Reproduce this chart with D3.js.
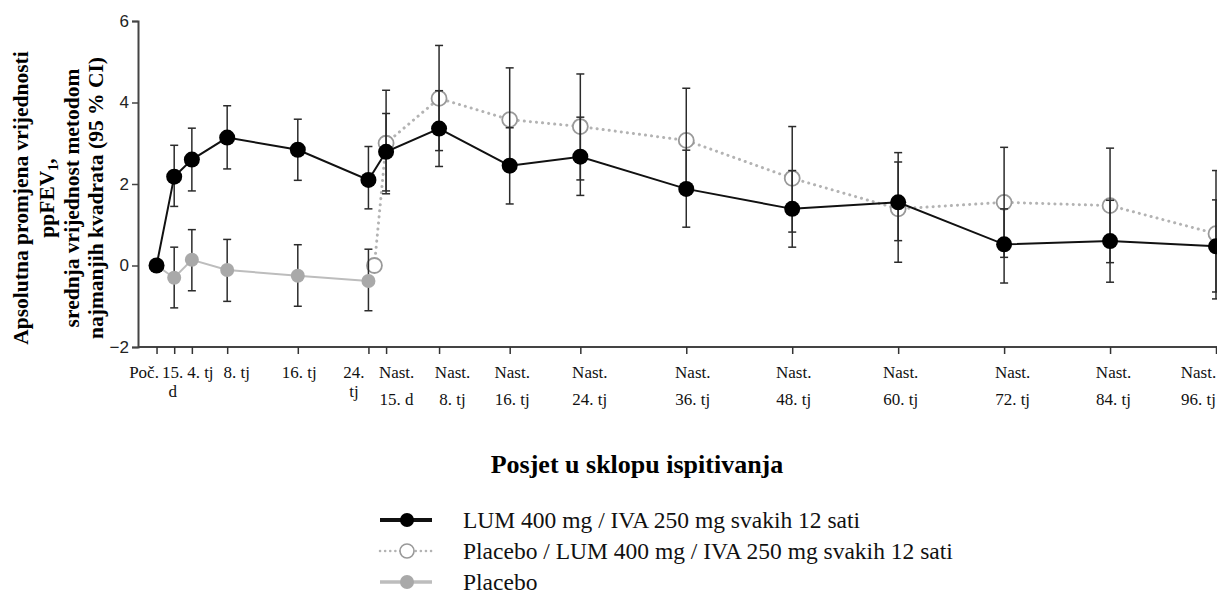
<!DOCTYPE html>
<html>
<head>
<meta charset="utf-8">
<script src="https://cdn.jsdelivr.net/npm/d3@7"></script>
<style>
  body { margin: 0; background: #fff; }
  svg { display: block; }
</style>
</head>
<body>
<div id="chart"></div>
<script>

// visit weeks and their labels
var weeks = [0, 2, 4, 8, 16, 24, 26, 32, 40, 48, 60, 72, 84, 96, 108, 120];
var tickLabels = [
    ["Poč."], ["15.", "d"], ["4. tj"], ["8. tj"], ["16. tj"], ["24.", "tj"],
    ["Nast.", "15. d"], ["Nast.", "8. tj"], ["Nast.", "16. tj"], ["Nast.", "24. tj"],
    ["Nast.", "36. tj"], ["Nast.", "48. tj"], ["Nast.", "60. tj"], ["Nast.", "72. tj"],
    ["Nast.", "84. tj"], ["Nast.", "96. tj"]
];
var yTicks = [-2, 0, 2, 4, 6];

// LUM 400 mg / IVA 250 mg
var lumMean = [0, 2.18, 2.6, 3.14, 2.84, 2.1, 2.79, 3.36, 2.45, 2.67, 1.88, 1.39, 1.55, 0.52, 0.6, 0.47];
var lumLo   = [null, 1.45, 1.83, 2.37, 2.09, 1.39, 1.83, 2.43, 1.51, 1.72, 0.94, 0.45, 0.61, -0.43, -0.41, -0.65];
var lumHi   = [null, 2.95, 3.37, 3.92, 3.59, 2.92, 3.73, 4.29, 3.38, 3.64, 2.83, 2.33, 2.54, 1.39, 1.6, 1.61];

// Placebo -> LUM/IVA
var crossWeeks = [24, 26, 32, 40, 48, 60, 72, 84, 96, 108, 120];
var crossMean = [0, 3.0, 4.1, 3.58, 3.41, 3.07, 2.14, 1.39, 1.55, 1.47, 0.78];
var crossLo   = [null, 1.76, 2.82, 2.3, 2.1, 1.8, 0.82, 0.08, 0.2, 0.07, -0.82];
var crossHi   = [null, 4.3, 5.4, 4.85, 4.7, 4.35, 3.41, 2.77, 2.9, 2.88, 2.33];

// Placebo
var placeboWeeks = [0, 2, 4, 8, 16, 24];
var placeboMean = [0, -0.3, 0.14, -0.11, -0.25, -0.38];
var placeboLo   = [null, -1.04, -0.62, -0.88, -1.0, -1.11];
var placeboHi   = [null, 0.45, 0.88, 0.64, 0.51, 0.4];

var legendLabels = [
    "LUM 400 mg / IVA 250 mg svakih 12 sati",
    "Placebo / LUM 400 mg / IVA 250 mg svakih 12 sati",
    "Placebo"
];

// horizontal nudges (px) for the tick labels, as placed in the original
var labelNudge = [-13, -2, 8, 9, 1, -15, 10, 13, 2, 9, 6, 1, 2, 8, 3, -18];

function main() {
    var W = 1217, H = 594;
    var serif = "'Liberation Serif', 'Times New Roman', serif";
    var sans = "'Liberation Sans', Arial, sans-serif";

    var svg = d3.select("#chart").append("svg")
        .attr("width", W).attr("height", H);

    var x = d3.scaleLinear().domain([-2.1, 120]).range([138, 1216]);
    var y = d3.scaleLinear().domain([-2, 6]).range([347, 21]);

    function series(wk, mean, lo, hi) {
        return wk.map(function (w, i) {
            return { w: w, m: mean[i], lo: lo[i], hi: hi[i] };
        });
    }
    var lum = series(weeks, lumMean, lumLo, lumHi);
    var cross = series(crossWeeks, crossMean, crossLo, crossHi);
    var plac = series(placeboWeeks, placeboMean, placeboLo, placeboHi);

    // the first open point sits a little right of the 24 tj tick
    var dodge = 6;
    function cx(d, i, s) { return x(d.w) + (s === cross && i === 0 ? dodge : 0); }

    // axes
    var yAxis = svg.append("g")
        .attr("transform", "translate(138,0)")
        .call(d3.axisLeft(y).tickValues(yTicks).tickSize(6).tickPadding(3)
              .tickFormat(d3.format("d")));
    yAxis.select(".domain").attr("stroke", "#444").attr("stroke-width", 2);
    yAxis.selectAll(".tick line").attr("stroke", "#444").attr("stroke-width", 1.5);
    yAxis.selectAll(".tick text")
        .attr("fill", "#222").style("font-family", sans).style("font-size", "17px");

    var xAxis = svg.append("g")
        .attr("transform", "translate(0,347)")
        .call(d3.axisBottom(x).tickValues(weeks).tickSize(7).tickSizeOuter(0)
              .tickFormat(""));
    xAxis.select(".domain").attr("stroke", "#444").attr("stroke-width", 2)
        .attr("d", "M138,0H1217");
    xAxis.selectAll(".tick line").attr("stroke", "#333").attr("stroke-width", 1.5);
    xAxis.selectAll(".tick").each(function (d, i) {
        var lines = tickLabels[i];
        var t = d3.select(this).append("text")
            .attr("fill", "#111")
            .attr("text-anchor", "middle")
            .style("font-family", serif)
            .style("font-size", "17px");
        lines.forEach(function (s, k) {
            var dy = k === 0 ? 31 : (lines[0] === "Nast." ? 58 : 50);
            t.append("tspan").attr("x", labelNudge[i]).attr("y", dy).text(s);
        });
    });

    var line = d3.line()
        .x(function (d) { return d.px; })
        .y(function (d) { return y(d.m); });
    function pts(s) {
        return s.map(function (d, i) { return { px: cx(d, i, s), m: d.m }; });
    }

    // placebo -> LUM dotted line and open markers
    svg.append("path").datum(pts(cross))
        .attr("d", line).attr("fill", "none")
        .attr("stroke", "#b3b3b3").attr("stroke-width", 3)
        .attr("stroke-linecap", "round").attr("stroke-dasharray", "0.1,6");
    svg.selectAll("circle.cross").data(cross).enter().append("circle")
        .attr("class", "cross")
        .attr("cx", function (d, i) { return cx(d, i, cross); })
        .attr("cy", function (d) { return y(d.m); })
        .attr("r", 7.5)
        .attr("fill", "#fff").attr("stroke", "#999").attr("stroke-width", 1.8);

    // placebo line
    svg.append("path").datum(pts(plac))
        .attr("d", line).attr("fill", "none")
        .attr("stroke", "#bdbdbd").attr("stroke-width", 2);

    // error bars
    var bars = [].concat(plac, cross, lum).filter(function (d) { return d.lo !== null; });
    var eb = svg.append("g").attr("stroke", "#2b2b2b").attr("stroke-width", 1.5);
    bars.forEach(function (d) {
        var px = x(d.w);
        eb.append("line").attr("x1", px).attr("x2", px)
            .attr("y1", y(d.lo)).attr("y2", y(d.hi));
        [d.lo, d.hi].forEach(function (v) {
            eb.append("line").attr("x1", px - 4).attr("x2", px + 4)
                .attr("y1", y(v)).attr("y2", y(v));
        });
    });

    // placebo markers
    svg.selectAll("circle.plac").data(plac).enter().append("circle")
        .attr("class", "plac")
        .attr("cx", function (d) { return x(d.w); })
        .attr("cy", function (d) { return y(d.m); })
        .attr("r", 7).attr("fill", "#a9a9a9");

    // LUM/IVA line and markers
    svg.append("path").datum(pts(lum))
        .attr("d", line).attr("fill", "none")
        .attr("stroke", "#111").attr("stroke-width", 2);
    svg.selectAll("circle.lum").data(lum).enter().append("circle")
        .attr("class", "lum")
        .attr("cx", function (d) { return x(d.w); })
        .attr("cy", function (d) { return y(d.m); })
        .attr("r", 8).attr("fill", "#000");

    // y title
    var yt = svg.append("text")
        .attr("transform", "translate(0,198) rotate(-90)")
        .attr("text-anchor", "middle")
        .attr("fill", "#000")
        .style("font-family", serif).style("font-weight", "bold").style("font-size", "21.5px");
    yt.append("tspan").attr("x", 0).attr("y", 28).text("Apsolutna promjena vrijednosti");
    var t2 = yt.append("tspan").attr("x", 0).attr("y", 54).text("ppFEV");
    t2.append("tspan").attr("font-size", "14px").attr("dy", 4).text("1");
    t2.append("tspan").attr("dy", -4).text(",");
    yt.append("tspan").attr("x", 0).attr("y", 79).text("srednja vrijednost metodom");
    yt.append("tspan").attr("x", 0).attr("y", 103).text("najmanjih kvadrata (95 % CI)");

    // x title
    svg.append("text")
        .attr("x", 637).attr("y", 473)
        .attr("text-anchor", "middle")
        .style("font-family", serif).style("font-weight", "bold").style("font-size", "26px")
        .text("Posjet u sklopu ispitivanja");

    // legend
    var lg = svg.append("g").attr("transform", "translate(380,520)");
    var styles = [
        { stroke: "#111", dash: null, width: 4, fill: "#000", ring: "none" },
        { stroke: "#b3b3b3", dash: "0.1,5", width: 2.5, fill: "#fff", ring: "#999" },
        { stroke: "#bdbdbd", dash: null, width: 3.5, fill: "#a9a9a9", ring: "none" }
    ];
    legendLabels.forEach(function (label, i) {
        var g = lg.append("g").attr("transform", "translate(0," + (i * 31) + ")");
        var s = styles[i];
        g.append("line").attr("x1", 0).attr("x2", 52)
            .attr("stroke", s.stroke).attr("stroke-width", s.width)
            .attr("stroke-linecap", s.dash ? "round" : "butt")
            .attr("stroke-dasharray", s.dash);
        g.append("circle").attr("cx", 27).attr("r", 7)
            .attr("fill", s.fill).attr("stroke", s.ring).attr("stroke-width", 1.6);
        g.append("text").attr("x", 83).attr("y", 8)
            .style("font-family", serif).style("font-size", "23.5px")
            .attr("fill", "#111")
            .text(label);
    });
}

main();
</script>
</body>
</html>
